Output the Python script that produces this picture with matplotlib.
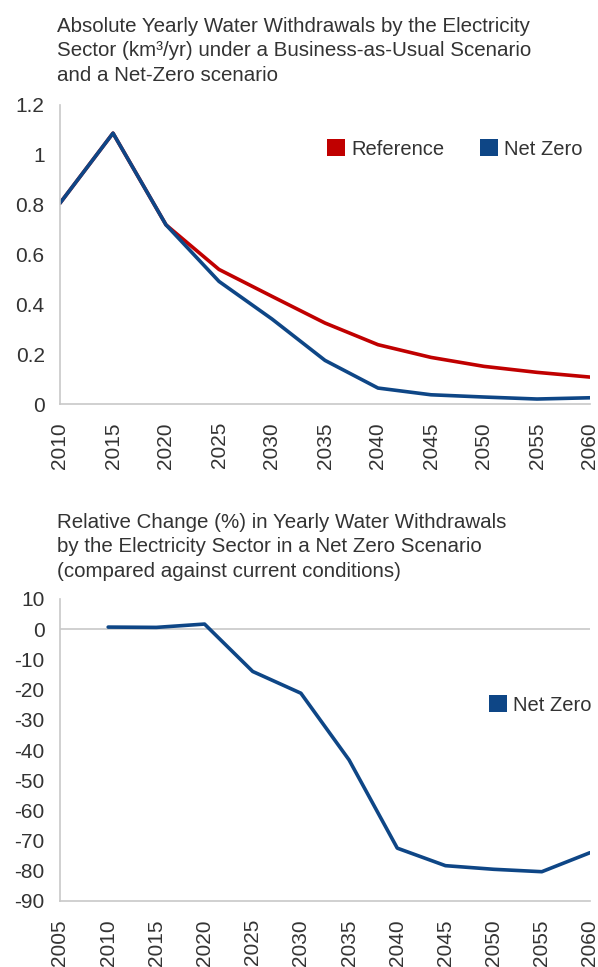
import matplotlib
matplotlib.use("Agg")
import matplotlib.pyplot as plt
from matplotlib.patches import Patch

# ---- data ----
years_top = [2010, 2015, 2020, 2025, 2030, 2035, 2040, 2045, 2050, 2055, 2060]
reference = [0.806, 1.087, 0.719, 0.540, 0.432, 0.325, 0.238, 0.187, 0.151, 0.127, 0.108]
net_zero = [0.806, 1.087, 0.719, 0.492, 0.341, 0.175, 0.064, 0.037, 0.028, 0.020, 0.025]

years_bot = [2010, 2015, 2020, 2025, 2030, 2035, 2040, 2045, 2050, 2055, 2060]
rel_change = [0.7, 0.6, 1.7, -14.0, -21.2, -43.3, -72.5, -78.3, -79.5, -80.3, -74.0]

top_yticks = [0, 0.2, 0.4, 0.6, 0.8, 1.0, 1.2]
top_yticklabels = ["0", "0.2", "0.4", "0.6", "0.8", "1", "1.2"]
top_xticks = [2010, 2015, 2020, 2025, 2030, 2035, 2040, 2045, 2050, 2055, 2060]
bot_yticks = [10, 0, -10, -20, -30, -40, -50, -60, -70, -80, -90]
bot_xticks = [2005, 2010, 2015, 2020, 2025, 2030, 2035, 2040, 2045, 2050, 2055, 2060]

title_top_lines = ["Absolute Yearly Water Withdrawals by the Electricity",
                   "Sector (km³/yr) under a Business-as-Usual Scenario",
                   "and a Net-Zero scenario"]
title_bot_lines = ["Relative Change (%) in Yearly Water Withdrawals",
                   "by the Electricity Sector in a Net Zero Scenario",
                   "(compared against current conditions)"]

# ---- style ----
plt.rcParams['font.family'] = ["Liberation Sans", "DejaVu Sans"]

RED = "#C00000"
BLUE = "#0E4686"
TXT = "#333333"
SPINE = "#C8C8C8"
TICK_FS = 15
LEG_FS = 14.5
TITLE_FS = 14.8

W, H = 598, 967
fig = plt.figure(figsize=(W / 100, H / 100), dpi=100)


def frac_axes(l, r, t, b):
    return fig.add_axes([l / W, 1 - b / H, (r - l) / W, (b - t) / H])


def style(ax):
    for s in ["top", "right"]:
        ax.spines[s].set_visible(False)
    for s in ["left", "bottom"]:
        ax.spines[s].set_color(SPINE)
        ax.spines[s].set_linewidth(1.2)
    ax.tick_params(axis='both', length=0, labelsize=TICK_FS, colors=TXT)
    ax.tick_params(axis='y', pad=11)
    ax.tick_params(axis='x', pad=13, labelrotation=90)


def title(lines, baselines):
    for line, yb in zip(lines, baselines):
        fig.text(57 / W, 1 - yb / H, line, ha='left', va='baseline',
                 fontsize=TITLE_FS, color=TXT)


# ---- top chart ----
ax1 = frac_axes(60, 590, 105, 404)
style(ax1)
ax1.plot(years_top, reference, color=RED, lw=2.6, solid_joinstyle='round', solid_capstyle='round')
ax1.plot(years_top, net_zero, color=BLUE, lw=2.6, solid_joinstyle='round', solid_capstyle='round')
ax1.set_xlim(2010, 2060)
ax1.set_ylim(0, 1.2)
ax1.set_yticks(top_yticks)
ax1.set_yticklabels(top_yticklabels)
ax1.set_xticks(top_xticks)
ax1.set_xticklabels([str(x) for x in top_xticks])
h1 = [Patch(facecolor=RED, edgecolor='none', label="Reference"),
      Patch(facecolor=BLUE, edgecolor='none', label="Net Zero")]
ax1.legend(handles=h1, loc='center', bbox_to_anchor=(0.745, 0.853), ncol=2,
           frameon=False, fontsize=LEG_FS, handlelength=0.9, handleheight=0.9,
           handletextpad=0.3, columnspacing=1.8, labelcolor=TXT,
           borderaxespad=0, borderpad=0)
title(title_top_lines, [32, 56.5, 81])

# ---- bottom chart ----
ax2 = frac_axes(60, 590, 599, 901)
style(ax2)
ax2.axhline(0, color=SPINE, lw=1.2, zorder=1)
ax2.plot(years_bot, rel_change, color=BLUE, lw=2.6, solid_joinstyle='round', solid_capstyle='round', zorder=3)
ax2.set_xlim(2005, 2060)
ax2.set_ylim(-90, 10)
ax2.set_yticks(bot_yticks)
ax2.set_yticklabels([str(v) for v in bot_yticks])
ax2.set_xticks(bot_xticks)
ax2.set_xticklabels([str(x) for x in bot_xticks])
h2 = [Patch(facecolor=BLUE, edgecolor='none', label="Net Zero")]
ax2.legend(handles=h2, loc='center', bbox_to_anchor=(0.906, 0.649),
           frameon=False, fontsize=LEG_FS, handlelength=0.9, handleheight=0.9,
           handletextpad=0.3, labelcolor=TXT, borderaxespad=0, borderpad=0)
title(title_bot_lines, [528, 552.5, 577])

fig.savefig("out.png", dpi=100)
